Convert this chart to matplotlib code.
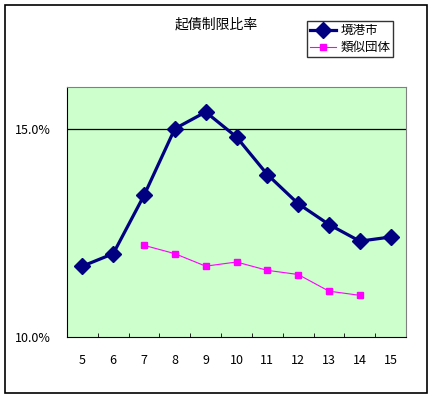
import matplotlib.pyplot as plt
from matplotlib.patches import Rectangle

plt.rcParams['font.family'] = ['Noto Sans CJK JP', 'DejaVu Sans']

# データ
nendo = ['5', '6', '7', '8', '9', '10', '11', '12', '13', '14', '15']
sakaiminato = [11.7, 12.0, 13.4, 15.0, 15.4, 14.8, 13.9, 13.2, 12.7, 12.3, 12.4]
ruiji_x = ['7', '8', '9', '10', '11', '12', '13', '14']
ruiji = [12.2, 12.0, 11.7, 11.8, 11.6, 11.5, 11.1, 11.0]
y_ticks = [10.0, 15.0]
y_labels = ['10.0%', '15.0%']

W, H = 433, 398
fig = plt.figure(figsize=(W / 100, H / 100), dpi=100)

# 外枠
fig.patches.append(Rectangle((5 / W, 5 / H), 422 / W, 388 / H, transform=fig.transFigure,
                             fill=False, edgecolor='black', linewidth=1.2))

ax = fig.add_axes([67 / W, (H - 337) / H, 339 / W, 250 / H])
ax.set_facecolor('#CCFFCC')

xpos = {k: i for i, k in enumerate(nendo)}
ax.plot([xpos[k] for k in nendo], sakaiminato, color='#000080', linewidth=2.3,
        marker='D', markersize=8, label='境港市', zorder=3)
ax.plot([xpos[k] for k in ruiji_x], ruiji, color='#FF00FF', linewidth=0.8,
        marker='s', markersize=4.5, label='類似団体', zorder=3)

ax.set_xlim(-0.5, len(nendo) - 0.5)
ax.set_ylim(10, 16)
ax.axhline(15, color='black', linewidth=0.9, zorder=1)

ax.set_xticks(range(len(nendo)))
ax.set_xticklabels(nendo, fontsize=9)
ax.set_xticks([i + 0.5 for i in range(len(nendo) - 1)], minor=True)
ax.tick_params(axis='x', which='major', length=0, pad=12)
ax.tick_params(axis='x', which='minor', direction='in', length=3, color='black')

ax.set_yticks(y_ticks)
ax.set_yticklabels(y_labels, fontsize=9)
ax.tick_params(axis='y', length=0, pad=12)

ax.spines['top'].set_color('gray')
ax.spines['right'].set_color('gray')
ax.spines['left'].set_color('black')
ax.spines['bottom'].set_color('black')

fig.text(216 / W, 1 - 25 / H, '起債制限比率', ha='center', va='center', fontsize=10)

leg = fig.legend(loc='upper left', bbox_to_anchor=(307 / W, 1 - 21 / H), fontsize=9,
                 frameon=True, fancybox=False, edgecolor='black', borderpad=0.25,
                 handlelength=2.1, labelspacing=0.3, borderaxespad=0, handletextpad=0.3)
leg.get_frame().set_linewidth(1.0)

fig.savefig('out.png', dpi=100)
